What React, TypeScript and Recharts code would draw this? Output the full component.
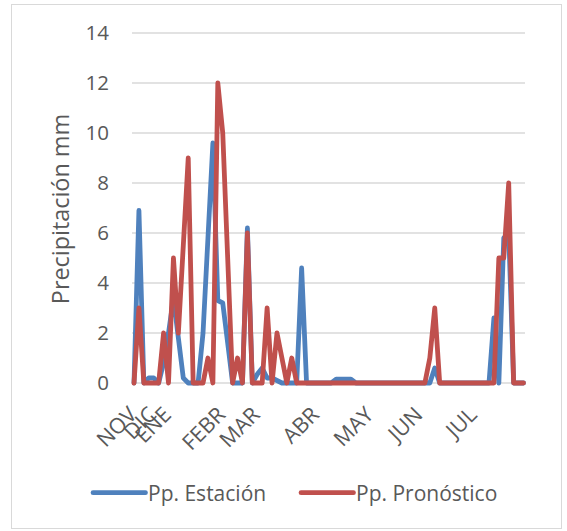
import React from 'react';
import { LineChart, Line, XAxis, YAxis, CartesianGrid } from 'recharts';

// Category tick labels (80 observations, months labelled where they start)
const tickLabels: string[] = [
  'NOV', '', '', '', 'DIC', '', '', 'ENE', '', '',
  '', '', '', '', '', '', '', '', 'FEBR', '',
  '', '', '', '', '', 'MAR', '', '', '', '',
  '', '', '', '', '', '', '', 'ABR', '', '',
  '', '', '', '', '', '', '', '', 'MAY', '',
  '', '', '', '', '', '', '', '', 'JUN', '',
  '', '', '', '', '', '', '', '', '', 'JUL',
  '', '', '', '', '', '', '', '', '', '',
];

// Pp. Estación (mm)
const estacion: number[] = [
  0, 6.9, 0, 0.2, 0.2, 0, 0.8, 2.0, 3.4, 1.8,
  0.2, 0, 0, 0, 2.0, 5.8, 9.6, 3.3, 3.2, 1.6,
  0, 0, 0, 6.2, 0, 0.35, 0.6, 0.2, 0.2, 0.1,
  0, 0, 0, 0, 4.6, 0, 0, 0, 0, 0,
  0, 0.15, 0.15, 0.15, 0.15, 0, 0, 0, 0, 0,
  0, 0, 0, 0, 0, 0, 0, 0, 0, 0,
  0, 0.6, 0, 0, 0, 0, 0, 0, 0, 0,
  0, 0, 0, 2.6, 0, 5.8, 6.0, 0, 0, 0,
];

// Pp. Pronóstico (mm)
const pronostico: number[] = [
  0, 3, 0, 0, 0, 0, 2, 0, 5, 2,
  5.5, 9, 0, 0, 0, 1, 0, 12, 10, 5,
  0, 1, 0, 6, 0, 0, 0, 3, 0, 2,
  1, 0, 1, 0, 0, 0, 0, 0, 0, 0,
  0, 0, 0, 0, 0, 0, 0, 0, 0, 0,
  0, 0, 0, 0, 0, 0, 0, 0, 0, 0,
  1, 3, 0, 0, 0, 0, 0, 0, 0, 0,
  0, 0, 0, 0, 5, 5, 8, 0, 0, 0,
];

const yTicks: number[] = [0, 2, 4, 6, 8, 10, 12, 14];

const seriesNames = ['Pp. Estación', 'Pp. Pronóstico'];
const BLUE = '#4F81BD';
const RED = '#C0504D';
const TEXT = '#595959';
const FONT = "'Open Sans', 'Liberation Sans', sans-serif";

const data = tickLabels.map((label, i) => ({
  label,
  estacion: estacion[i],
  pronostico: pronostico[i],
}));

const XTick = (props: any) => {
  const { x, y, payload } = props;
  if (!payload || !payload.value) return <g />;
  const ax = x + 4;
  const ay = y + 25;
  return (
    <text
      x={ax}
      y={ay}
      transform={`rotate(-45 ${ax} ${ay})`}
      textAnchor="end"
      fill={TEXT}
      fontSize={21.5}
      fontFamily={FONT}
    >
      {payload.value}
    </text>
  );
};

const YTitle = () => (
  <text
    x={69}
    y={209}
    transform="rotate(-90 69 209)"
    textAnchor="middle"
    fill={TEXT}
    fontSize={23.4}
    fontFamily={FONT}
  >
    Precipitación mm
  </text>
);

export default function App() {
  return (
    <div style={{ position: 'absolute', left: 0, top: 0, width: 567, height: 531, background: '#fff' }}>
      <div
        style={{
          position: 'absolute',
          left: 11,
          top: 4,
          width: 551,
          height: 525,
          border: '1.5px solid #d9d9d9',
          boxSizing: 'border-box',
        }}
      />
      <div style={{ position: 'absolute', left: 0, top: 0 }}>
        <LineChart
          width={567}
          height={531}
          data={data}
          margin={{ top: 33, right: 42, bottom: 88, left: 0 }}
        >
          <CartesianGrid vertical={false} stroke="#d9d9d9" strokeWidth={1.5} />
          <XAxis
            dataKey="label"
            interval={0}
            axisLine={false}
            tickLine={false}
            height={60}
            padding={{ left: 2, right: 1.5 }}
            tick={<XTick />}
          />
          <YAxis
            width={132}
            domain={[0, 14]}
            ticks={yTicks}
            axisLine={false}
            tickLine={false}
            tickSize={0}
            tickMargin={23}
            tick={{ fill: TEXT, fontSize: 20.5, fontFamily: FONT }}
            label={{ content: () => <YTitle /> }}
          />
          <Line
            type="linear"
            dataKey="estacion"
            name={seriesNames[0]}
            stroke={BLUE}
            strokeWidth={4.8}
            strokeLinecap="round"
            strokeLinejoin="round"
            dot={false}
            activeDot={false}
            isAnimationActive={false}
          />
          <Line
            type="linear"
            dataKey="pronostico"
            name={seriesNames[1]}
            stroke={RED}
            strokeWidth={4.8}
            strokeLinecap="round"
            strokeLinejoin="round"
            dot={false}
            activeDot={false}
            isAnimationActive={false}
          />
        </LineChart>
      </div>
      <svg
        width={567}
        height={531}
        style={{ position: 'absolute', left: 0, top: 0, pointerEvents: 'none' }}
      >
        <line x1={93} y1={492.7} x2={145.5} y2={492.7} stroke={BLUE} strokeWidth={4.7} strokeLinecap="round" />
        <text x={148} y={500.7} fill={TEXT} fontSize={21} fontFamily={FONT}>
          {seriesNames[0]}
        </text>
        <line x1={301} y1={492.7} x2={353.5} y2={492.7} stroke={RED} strokeWidth={4.7} strokeLinecap="round" />
        <text x={356} y={500.7} fill={TEXT} fontSize={21} fontFamily={FONT}>
          {seriesNames[1]}
        </text>
      </svg>
    </div>
  );
}
